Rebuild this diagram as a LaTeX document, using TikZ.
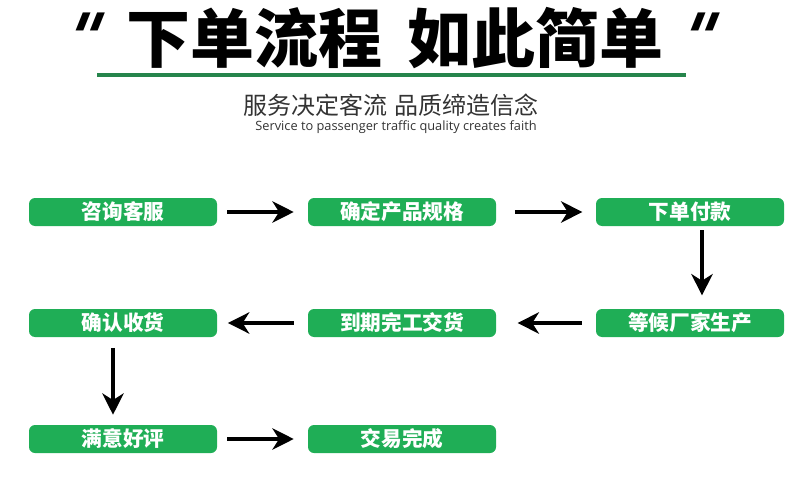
\documentclass[tikz,border=0pt]{standalone}
\usepackage{fontspec}
\setmainfont{Open Sans}
\newfontfamily\cjk{Noto Sans CJK SC}
\newfontfamily\quotefont{DejaVu Sans}
\usetikzlibrary{arrows.meta}
\definecolor{boxgreen}{RGB}{31,174,86}
\definecolor{linegreen}{RGB}{38,133,76}
\definecolor{subgray}{RGB}{51,51,51}
\tikzset{
  stepbox/.style={fill=boxgreen,rounded corners=4.5pt,minimum width=141pt,minimum height=21pt,inner sep=0pt,
    text=white,font=\cjk\bfseries\fontsize{15.5}{15.5}\selectfont},
  flow/.style={line width=3pt,-{Stealth[length=16pt,width=16pt,inset=5pt]}},
  quote/.style={inner sep=0pt,anchor=north,xslant=.4,transform shape,font=\quotefont\bfseries\fontsize{50}{50}\selectfont}
}
\begin{document}
\begin{tikzpicture}[x=.75pt,y=-.75pt]
  \useasboundingbox (0,0) rectangle (800,503);
  \node[quote] (ql) at (94,13) {"};
  \node (title) at (395,38) {\cjk\bfseries\fontsize{48}{48}\selectfont 下单流程\hspace{19pt}如此简单};
  \node[quote] (qr) at (709,13) {"};
  \draw[linegreen,line width=2.3pt] (97,75)--(686,75);
  \node[text=subgray] (slogan) at (391,105) {\cjk\fontsize{18}{18}\selectfont 服务决定客流\hspace{5pt}品质缔造信念};
  \node[text=subgray] (english) at (396,127) {\fontsize{9.6}{9.6}\selectfont Service to passenger traffic quality creates faith};
  % flow boxes
  \node[stepbox] (consult) at (123,212) {咨询客服};
  \node[stepbox] (confirm) at (402,212) {确定产品规格};
  \node[stepbox] (pay) at (690,212) {下单付款};
  \node[stepbox] (wait) at (690,323) {等候厂家生产};
  \node[stepbox] (arrive) at (402,323) {到期完工交货};
  \node[stepbox] (receive) at (123,323) {确认收货};
  \node[stepbox] (review) at (123,439) {满意好评};
  \node[stepbox] (done) at (402,439) {交易完成};
  \draw[flow] ([xshift=7.5pt]consult.east)--([xshift=-10.5pt]confirm.west);
  \draw[flow] ([xshift=14pt]confirm.east)--([xshift=-10pt]pay.west);
  \draw[flow] ([xshift=9pt,yshift=-3pt]pay.south)--([xshift=9pt,yshift=10pt]wait.north);
  \draw[flow] ([xshift=-10.5pt]wait.west)--([xshift=16pt]arrive.east);
  \draw[flow] ([xshift=-10.5pt]arrive.west)--([xshift=8pt]receive.east);
  \draw[flow] ([xshift=-7.5pt,yshift=-8pt]receive.south)--([xshift=-7.5pt,yshift=7.5pt]review.north);
  \draw[flow] ([xshift=7.5pt]review.east)--([xshift=-10.5pt]done.west);
\end{tikzpicture}
\end{document}
